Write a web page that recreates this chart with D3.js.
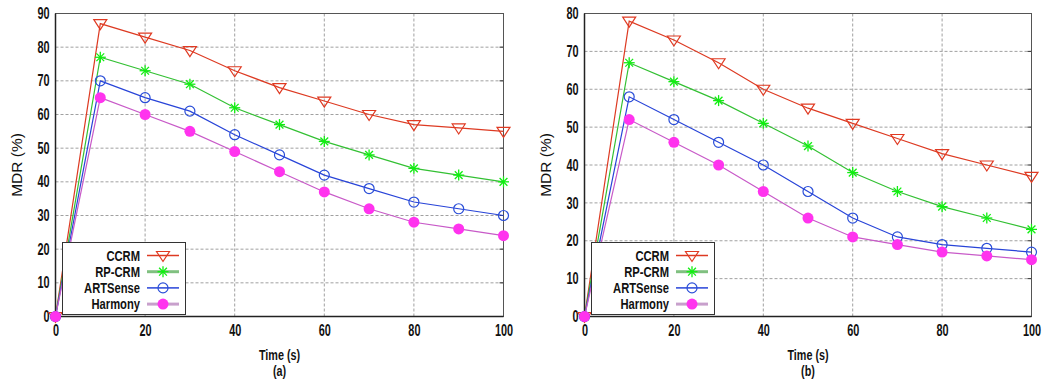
<!DOCTYPE html>
<html>
<head>
<meta charset="utf-8">
<script src="https://cdn.jsdelivr.net/npm/d3@7"></script>
<style>
  body { margin: 0; background: #fff; }
  svg { display: block; }
</style>
</head>
<body>
<svg id="chart" width="1044" height="383"></svg>
<script>
// time axis shared by both panels
const times = [0, 10, 20, 30, 40, 50, 60, 70, 80, 90, 100];
const seriesNames = ["CCRM", "RP-CRM", "ARTSense", "Harmony"];
const xTicks = [0, 20, 40, 60, 80, 100];

// panel (a)
const ccrmA = [0, 87, 83, 79, 73, 68, 64, 60, 57, 56, 55];
const rpcrmA = [0, 77, 73, 69, 62, 57, 52, 48, 44, 42, 40];
const artsenseA = [0, 70, 65, 61, 54, 48, 42, 38, 34, 32, 30];
const harmonyA = [0, 65, 60, 55, 49, 43, 37, 32, 28, 26, 24];
const yTicksA = [0, 10, 20, 30, 40, 50, 60, 70, 80, 90];

// panel (b)
const ccrmB = [0, 78, 73, 67, 60, 55, 51, 47, 43, 40, 37];
const rpcrmB = [0, 67, 62, 57, 51, 45, 38, 33, 29, 26, 23];
const artsenseB = [0, 58, 52, 46, 40, 33, 26, 21, 19, 18, 17];
const harmonyB = [0, 52, 46, 40, 33, 26, 21, 19, 17, 16, 15];
const yTicksB = [0, 10, 20, 30, 40, 50, 60, 70, 80];

const styles = {
  "CCRM":     { line: "#dd3a22", mark: "#e03a22", legendLine: "#dd3a22", legendW: 1.5 },
  "RP-CRM":   { line: "#33c033", mark: "#11ee11", legendLine: "#80c080", legendW: 3 },
  "ARTSense": { line: "#2844d8", mark: "#2a4ed8", legendLine: "#2844d8", legendW: 1.5 },
  "Harmony":  { line: "#c85ac8", mark: "#ff33ee", legendLine: "#c8a0cc", legendW: 3 }
};

const sans = "'Liberation Sans', Arial, sans-serif";
const svg = d3.select("#chart");

// the reference uses a condensed bold face; squeeze Liberation Sans Bold horizontally
function squeeze(sel, k) {
  sel.each(function () {
    const t = d3.select(this);
    const x0 = +t.attr("x") || 0;
    t.attr("x", x0 / k).attr("transform", `scale(${k},1)`);
  });
}

function drawMarker(g, name, cx, cy) {
  const s = styles[name];
  if (name === "CCRM") {
    g.append("path")
      .attr("d", `M${cx - 6.5},${cy - 4} L${cx + 6.5},${cy - 4} L${cx},${cy + 6} Z`)
      .attr("fill", "none").attr("stroke", s.mark).attr("stroke-width", 1.2);
  } else if (name === "RP-CRM") {
    const r = 5.5;
    for (let k = 0; k < 4; k++) {
      const a = k * Math.PI / 4;
      g.append("line")
        .attr("x1", cx - r * Math.cos(a)).attr("y1", cy - r * Math.sin(a))
        .attr("x2", cx + r * Math.cos(a)).attr("y2", cy + r * Math.sin(a))
        .attr("stroke", s.mark).attr("stroke-width", 1.3);
    }
  } else if (name === "ARTSense") {
    g.append("circle").attr("cx", cx).attr("cy", cy).attr("r", 5)
      .attr("fill", "none").attr("stroke", s.mark).attr("stroke-width", 1.2);
  } else {
    g.append("circle").attr("cx", cx).attr("cy", cy).attr("r", 5.5)
      .attr("fill", s.mark).attr("stroke", "none");
  }
}

function drawPanel(opts) {
  const { left, right, top, bottom, yMax, yTicks, series, caption, legend } = opts;
  const g = svg.append("g");

  const x = d3.scaleLinear().domain([0, 100]).range([left, right]);
  const y = d3.scaleLinear().domain([0, yMax]).range([bottom, top]);

  // grid
  g.selectAll(".hgrid").data(yTicks.filter(t => t > 0 && t < yMax)).enter()
    .append("line")
    .attr("x1", left).attr("x2", right)
    .attr("y1", d => y(d)).attr("y2", d => y(d))
    .attr("stroke", "#a0a0a0").attr("stroke-width", 1).attr("stroke-dasharray", "3,2");
  g.selectAll(".vgrid").data(xTicks.filter(t => t > 0 && t < 100)).enter()
    .append("line")
    .attr("y1", top).attr("y2", bottom)
    .attr("x1", d => x(d)).attr("x2", d => x(d))
    .attr("stroke", "#a0a0a0").attr("stroke-width", 1).attr("stroke-dasharray", "3,2");

  // axes with inward ticks (mirrored)
  const tickLen = 4;
  const yAxis = g.append("g").attr("transform", `translate(${left},0)`)
    .call(d3.axisLeft(y).tickValues(yTicks).tickSize(0).tickPadding(6));
  const xAxis = g.append("g").attr("transform", `translate(0,${bottom})`)
    .call(d3.axisBottom(x).tickValues(xTicks).tickSize(0).tickPadding(8));
  [yAxis, xAxis].forEach(a => {
    a.select(".domain").remove();
    a.selectAll("text")
      .style("font-family", sans).style("font-size", "16px")
      .style("font-weight", "bold").style("fill", "#111")
      .call(squeeze, 0.68);
  });
  xAxis.selectAll("text").attr("dy", "0.75em");
  g.selectAll(".rtick").data(yTicks.filter(t => t > 0 && t < yMax)).enter()
    .append("line")
    .attr("x1", right - tickLen).attr("x2", right)
    .attr("y1", d => y(d)).attr("y2", d => y(d))
    .attr("stroke", "#333");

  // frame
  g.append("rect")
    .attr("x", left).attr("y", top)
    .attr("width", right - left).attr("height", bottom - top)
    .attr("fill", "none").attr("stroke", "#555").attr("stroke-width", 1);
  g.append("line").attr("x1", left).attr("x2", left).attr("y1", top).attr("y2", bottom)
    .attr("stroke", "#222").attr("stroke-width", 1.5);
  g.append("line").attr("x1", left).attr("x2", right).attr("y1", bottom).attr("y2", bottom)
    .attr("stroke", "#222").attr("stroke-width", 1.5);

  // lines
  const line = d3.line().x((d, i) => x(times[i])).y(d => y(d));
  series.forEach((vals, si) => {
    const name = seriesNames[si];
    g.append("path").datum(vals)
      .attr("d", line)
      .attr("fill", "none").attr("stroke", styles[name].line).attr("stroke-width", 1.2);
  });
  series.forEach((vals, si) => {
    const name = seriesNames[si];
    vals.forEach((v, i) => drawMarker(g, name, x(times[i]), y(v)));
  });

  // legend
  const lg = g.append("g");
  lg.append("rect")
    .attr("x", legend.x).attr("y", legend.y)
    .attr("width", legend.w).attr("height", legend.h)
    .attr("fill", "#fff").attr("stroke", "#333").attr("stroke-width", 1);
  seriesNames.forEach((name, i) => {
    const cy = legend.y + 13 + i * 16.2;
    lg.append("text")
      .attr("x", legend.textX).attr("y", cy)
      .attr("dy", "0.36em").attr("text-anchor", "end")
      .style("font-family", sans).style("font-size", "14px")
      .style("font-weight", "bold").style("fill", "#111")
      .text(name)
      .call(squeeze, 0.8);
    lg.append("line")
      .attr("x1", legend.lineX1).attr("x2", legend.lineX2)
      .attr("y1", cy).attr("y2", cy)
      .attr("stroke", styles[name].legendLine).attr("stroke-width", styles[name].legendW);
    drawMarker(lg, name, (legend.lineX1 + legend.lineX2) / 2, cy);
  });

  // axis titles
  g.append("text")
    .attr("transform", `translate(${left - 33.5},${(top + bottom) / 2}) rotate(-90)`)
    .attr("text-anchor", "middle")
    .style("font-family", sans).style("font-size", "15.5px")
    .style("fill", "#111")
    .text("MDR (%)");
  g.append("text")
    .attr("x", (left + right) / 2).attr("y", bottom + 44)
    .attr("text-anchor", "middle")
    .style("font-family", sans).style("font-size", "15px")
    .style("font-weight", "bold").style("fill", "#111")
    .text("Time (s)")
    .call(squeeze, 0.72);
  g.append("text")
    .attr("x", (left + right) / 2).attr("y", bottom + 60)
    .attr("text-anchor", "middle")
    .style("font-family", sans).style("font-size", "15px")
    .style("font-weight", "bold").style("fill", "#111")
    .text(caption)
    .call(squeeze, 0.72);
}

drawPanel({
  left: 55.5, right: 503.5, top: 13.5, bottom: 316.5,
  yMax: 90, yTicks: yTicksA,
  series: [ccrmA, rpcrmA, artsenseA, harmonyA],
  caption: "(a)",
  legend: { x: 62.5, y: 242.5, w: 123, h: 72, textX: 140, lineX1: 147, lineX2: 179 }
});

drawPanel({
  left: 584.5, right: 1031.5, top: 13.5, bottom: 316.5,
  yMax: 80, yTicks: yTicksB,
  series: [ccrmB, rpcrmB, artsenseB, harmonyB],
  caption: "(b)",
  legend: { x: 591.5, y: 242.5, w: 123, h: 72, textX: 669, lineX1: 676, lineX2: 708 }
});
</script>
</body>
</html>
